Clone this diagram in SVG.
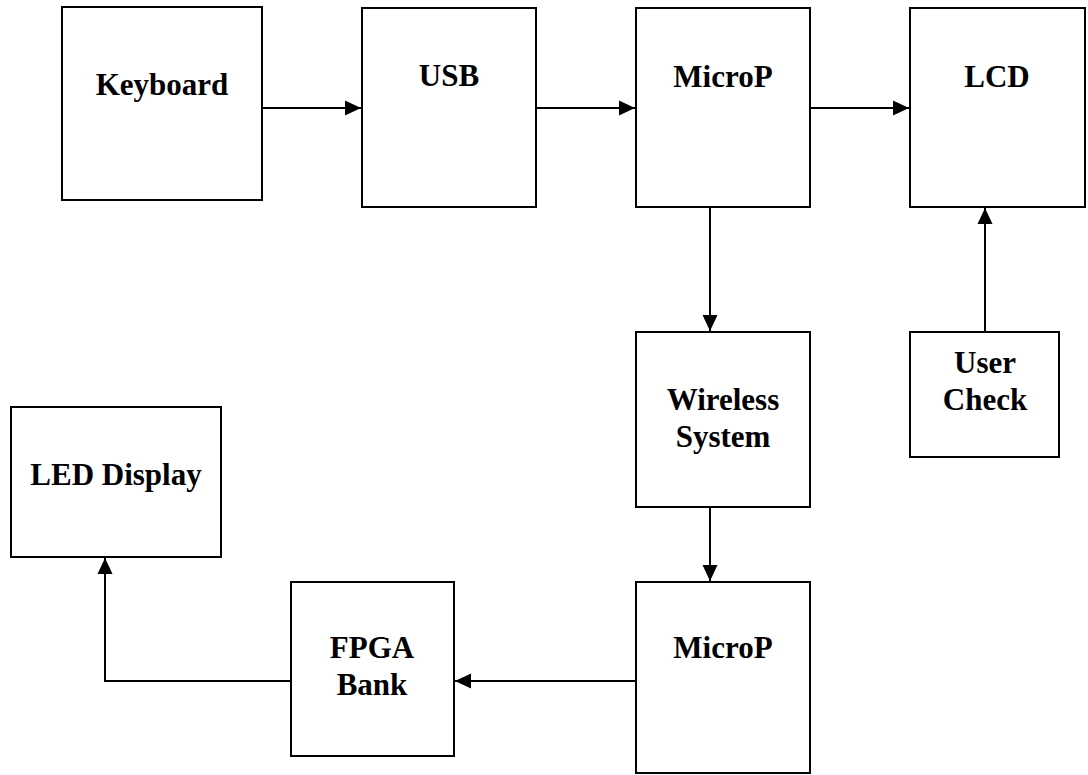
<svg xmlns="http://www.w3.org/2000/svg" width="1088" height="775" viewBox="0 0 1088 775">
<style>
.box{fill:#fff;stroke:#000;stroke-width:2}
.lbl{font-family:"Liberation Serif","Times New Roman",serif;font-weight:bold;font-size:31px;fill:#000;text-anchor:middle}
.con{fill:none;stroke:#000;stroke-width:2}
</style>
<defs>
<marker id="ah" markerUnits="userSpaceOnUse" markerWidth="16" markerHeight="16" viewBox="0 0 16 16" refX="16" refY="8" orient="auto">
<path d="M0,0.5 L16,8 L0,15.5 Z" fill="#000"/>
</marker>
</defs>
<rect width="1088" height="775" fill="#fff"/>
<g id="keyboard"><rect class="box" x="62" y="7" width="200" height="193"/><text class="lbl" x="162" y="95">Keyboard</text></g>
<g id="usb"><rect class="box" x="362" y="8" width="174" height="199"/><text class="lbl" x="449" y="86">USB</text></g>
<g id="microp1"><rect class="box" x="636" y="8" width="174" height="199"/><text class="lbl" x="723" y="87">MicroP</text></g>
<g id="lcd"><rect class="box" x="910" y="8" width="175" height="199"/><text class="lbl" x="997" y="87">LCD</text></g>
<g id="wireless"><rect class="box" x="636" y="332" width="174" height="175"/><text class="lbl" x="723" y="410">Wireless</text><text class="lbl" x="723" y="447">System</text></g>
<g id="usercheck"><rect class="box" x="910" y="332" width="149" height="125"/><text class="lbl" x="985" y="373">User</text><text class="lbl" x="985" y="410">Check</text></g>
<g id="microp2"><rect class="box" x="636" y="582" width="174" height="191"/><text class="lbl" x="723" y="658">MicroP</text></g>
<g id="fpga"><rect class="box" x="291" y="582" width="163" height="174"/><text class="lbl" x="372" y="658">FPGA</text><text class="lbl" x="372" y="695">Bank</text></g>
<g id="led"><rect class="box" x="11" y="407" width="210" height="150"/><text class="lbl" x="116" y="485">LED Display</text></g>
<g id="connectors">
<line class="con" x1="262" y1="108" x2="361" y2="108" marker-end="url(#ah)"/>
<line class="con" x1="536" y1="108" x2="635" y2="108" marker-end="url(#ah)"/>
<line class="con" x1="810" y1="108" x2="909" y2="108" marker-end="url(#ah)"/>
<line class="con" x1="710" y1="207" x2="710" y2="331" marker-end="url(#ah)"/>
<line class="con" x1="985" y1="332" x2="985" y2="208" marker-end="url(#ah)"/>
<line class="con" x1="710" y1="507" x2="710" y2="581" marker-end="url(#ah)"/>
<line class="con" x1="636" y1="681" x2="455" y2="681" marker-end="url(#ah)"/>
<polyline class="con" points="291,681 105,681 105,558" marker-end="url(#ah)"/>
</g>
</svg>
